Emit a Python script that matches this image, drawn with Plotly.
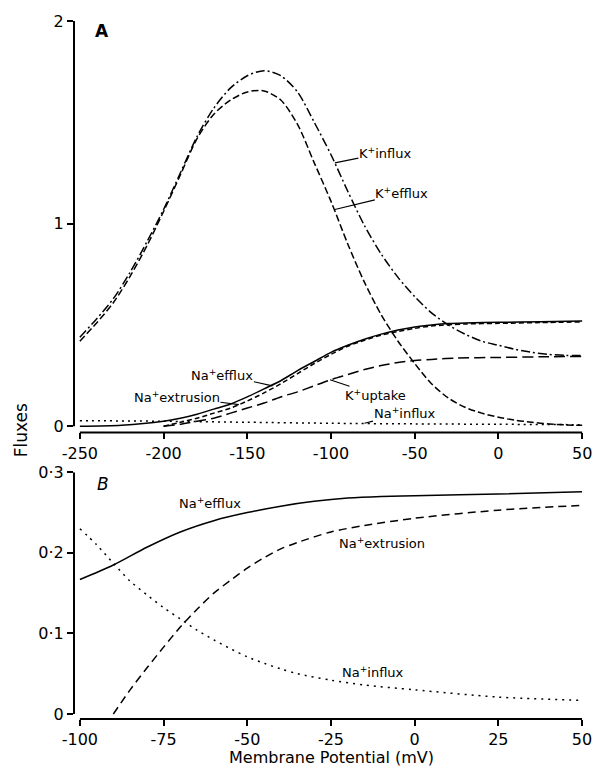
import plotly.graph_objects as go

# ---------------- Panel A data ----------------
kin_x = [-250, -240, -230, -220, -210, -200, -190, -180, -170, -160, -150, -140, -130, -120, -110,
         -100, -90, -80, -70, -60, -50, -40, -30, -20, -10, 0, 10, 20, 30, 40, 50]
kin_y = [0.44, 0.53, 0.63, 0.76, 0.91, 1.07, 1.25, 1.43, 1.57, 1.67, 1.73, 1.755, 1.73, 1.65, 1.50,
         1.34, 1.16, 0.99, 0.85, 0.735, 0.64, 0.56, 0.50, 0.455, 0.42, 0.40, 0.38, 0.365, 0.355, 0.35, 0.35]

kef_x = kin_x
kef_y = [0.42, 0.51, 0.61, 0.74, 0.89, 1.06, 1.24, 1.42, 1.54, 1.61, 1.65, 1.655, 1.61, 1.49, 1.30,
         1.11, 0.90, 0.71, 0.55, 0.42, 0.31, 0.21, 0.14, 0.094, 0.065, 0.045, 0.03, 0.02, 0.012, 0.007, 0.005]

kup_x = [-200, -190, -180, -170, -160, -150, -140, -130, -120, -110, -100, -90, -80, -70, -60, -50,
         -40, -25, 0, 25, 50]
kup_y = [0.0, 0.01, 0.025, 0.04, 0.065, 0.09, 0.115, 0.145, 0.17, 0.20, 0.23, 0.255, 0.28, 0.30,
         0.315, 0.325, 0.33, 0.337, 0.34, 0.343, 0.345]

naef_x = [-250, -225, -200, -190, -180, -170, -160, -150, -140, -130, -120, -110, -100, -90, -80,
          -70, -60, -50, -40, -30, -20, 0, 25, 50]
naef_y = [0.0, 0.005, 0.025, 0.04, 0.06, 0.085, 0.11, 0.145, 0.185, 0.225, 0.275, 0.32, 0.365, 0.40,
          0.43, 0.455, 0.475, 0.49, 0.50, 0.507, 0.51, 0.513, 0.516, 0.52]

naex_x = [-200, -190, -180, -170, -160, -150, -140, -130, -120, -110, -100, -90, -80, -70, -60, -50,
          -40, -20, 0, 25, 50]
naex_y = [0.0, 0.02, 0.04, 0.065, 0.09, 0.125, 0.165, 0.21, 0.26, 0.31, 0.355, 0.395, 0.425, 0.45,
          0.468, 0.483, 0.495, 0.505, 0.508, 0.512, 0.515]

nain_x = [-250, -200, -150, -100, -50, 0, 50]
nain_y = [0.028, 0.025, 0.02, 0.015, 0.012, 0.01, 0.008]

# ---------------- Panel B data ----------------
bef_x = [-100, -90, -80, -70, -60, -50, -40, -30, -20, -10, 0, 25, 50]
bef_y = [0.167, 0.185, 0.207, 0.226, 0.240, 0.250, 0.258, 0.264, 0.268, 0.270, 0.271, 0.273, 0.276]

bex_x = [-90, -85, -80, -75, -70, -65, -60, -55, -50, -45, -40, -35, -25, -15, 0, 25, 50]
bex_y = [0.0, 0.03, 0.057, 0.083, 0.108, 0.13, 0.15, 0.166, 0.181, 0.194, 0.205, 0.213, 0.226,
         0.234, 0.243, 0.253, 0.259]

bin_x = [-100, -95, -90, -85, -80, -75, -70, -65, -60, -55, -50, -45, -40, -35, -25, -15, 0, 25, 50]
bin_y = [0.23, 0.21, 0.187, 0.165, 0.148, 0.132, 0.118, 0.104, 0.092, 0.081, 0.071, 0.063, 0.056,
         0.050, 0.042, 0.036, 0.03, 0.021, 0.017]

xa_ticks = [-250, -200, -150, -100, -50, 0, 50]
xa_text = ["-250", "-200", "-150", "-100", "-50", "0", "50"]
ya_ticks = [0, 1, 2]
ya_text = ["0", "1", "2"]
xb_ticks = [-100, -75, -50, -25, 0, 25, 50]
xb_text = ["-100", "-75", "-50", "-25", "0", "25", "50"]
yb_ticks = [0, 0.1, 0.2, 0.3]
yb_text = ["0", "0·1", "0·2", "0·3"]

FONT = "DejaVu Sans"
W = 1.5

fig = go.Figure()

def add(x, y, dash, xa, ya):
    fig.add_trace(go.Scatter(x=x, y=y, mode="lines", xaxis=xa, yaxis=ya,
                             line=dict(color="black", width=W, dash=dash, shape="spline", smoothing=0.8),
                             showlegend=False, hoverinfo="skip"))

add(kin_x, kin_y, "9px,3px,2px,3px", "x", "y")
add(kef_x, kef_y, "7px,3px", "x", "y")
add(kup_x, kup_y, "11px,5px", "x", "y")
add(naef_x, naef_y, "solid", "x", "y")
add(naex_x, naex_y, "5px,3px", "x", "y")
add(nain_x, nain_y, "2px,4px", "x", "y")

add(bef_x, bef_y, "solid", "x2", "y2")
add(bex_x, bex_y, "8px,5px", "x2", "y2")
add(bin_x, bin_y, "2px,5px", "x2", "y2")

axis_common = dict(showgrid=False, zeroline=False, showline=False, ticks="outside",
                   ticklen=6, tickwidth=1.5, tickcolor="black",
                   tickfont=dict(family=FONT, size=16, color="black"), tickmode="array")

fig.update_layout(
    width=604, height=774,
    margin=dict(l=74, r=12, t=20, b=55),
    paper_bgcolor="white", plot_bgcolor="white",
    xaxis=dict(domain=[0, 1], range=[-253.5, 50.5], anchor="y",
               tickvals=xa_ticks, ticktext=xa_text, **axis_common),
    yaxis=dict(domain=[0.4106, 1], range=[-0.03, 2.0], anchor="x",
               tickvals=ya_ticks, ticktext=ya_text, **axis_common),
    xaxis2=dict(domain=[0, 1], range=[-101.76, 50.3], anchor="y2",
                tickvals=xb_ticks, ticktext=xb_text, **axis_common),
    yaxis2=dict(domain=[0, 0.3534], range=[-0.0062, 0.3], anchor="x2",
                tickvals=yb_ticks, ticktext=yb_text, **axis_common),
)

# axis lines (detached corner as in the original)
lw = 2
fig.add_shape(type="line", xref="x domain", yref="y", x0=0, x1=0, y0=0, y1=2.0,
              line=dict(color="black", width=lw))
fig.add_shape(type="line", xref="x", yref="y domain", x0=-250, x1=50, y0=0, y1=0,
              line=dict(color="black", width=lw))
fig.add_shape(type="line", xref="x2 domain", yref="y2", x0=0, x1=0, y0=0, y1=0.3,
              line=dict(color="black", width=lw))
fig.add_shape(type="line", xref="x2", yref="y2 domain", x0=-100, x1=50, y0=0, y1=0,
              line=dict(color="black", width=lw))

af = dict(family=FONT, size=13, color="black")

def lab(text, x, y, ax, ay, xr="x", yr="y"):
    fig.add_annotation(text=text, x=x, y=y, xref=xr, yref=yr, ax=ax, ay=ay,
                       showarrow=True, arrowhead=0, arrowwidth=1.2, arrowcolor="black",
                       borderpad=0, font=af)

lab("K<sup>+</sup>influx", -97.7, 1.30, 50, -10)
lab("K<sup>+</sup>efflux", -97.7, 1.07, 67, -16)
lab("Na<sup>+</sup>efflux", -135, 0.2, -50, -11)
lab("Na<sup>+</sup>extrusion", -155, 0.107, -62, -8)
lab("K<sup>+</sup>uptake", -100.6, 0.23, 45, 15)
lab("Na<sup>+</sup>influx", -80, 0.015, 40, -10)

def txt(text, x, y, xr, yr, size=13, **kw):
    fig.add_annotation(text=text, x=x, y=y, xref=xr, yref=yr, showarrow=False,
                       xanchor="center", yanchor="middle",
                       font=dict(family=FONT, size=size, color="black"), **kw)

txt("Na<sup>+</sup>efflux", -61, 0.2615, "x2", "y2")
txt("Na<sup>+</sup>extrusion", -9.6, 0.212, "x2", "y2")
txt("Na<sup>+</sup>influx", -12.5, 0.052, "x2", "y2")

txt("<b>A</b>", -236.5, 1.95, "x", "y", size=17)
txt("<i>B</i>", -93.2, 0.286, "x2", "y2", size=17)

txt("Fluxes", (20 - 74) / 518, (719 - 430) / 699, "paper", "paper", size=17, textangle=-90)
txt("Membrane Potential (mV)", (336 - 74) / 518, (719 - 758) / 699, "paper", "paper", size=16)

fig.write_html("out.html")
